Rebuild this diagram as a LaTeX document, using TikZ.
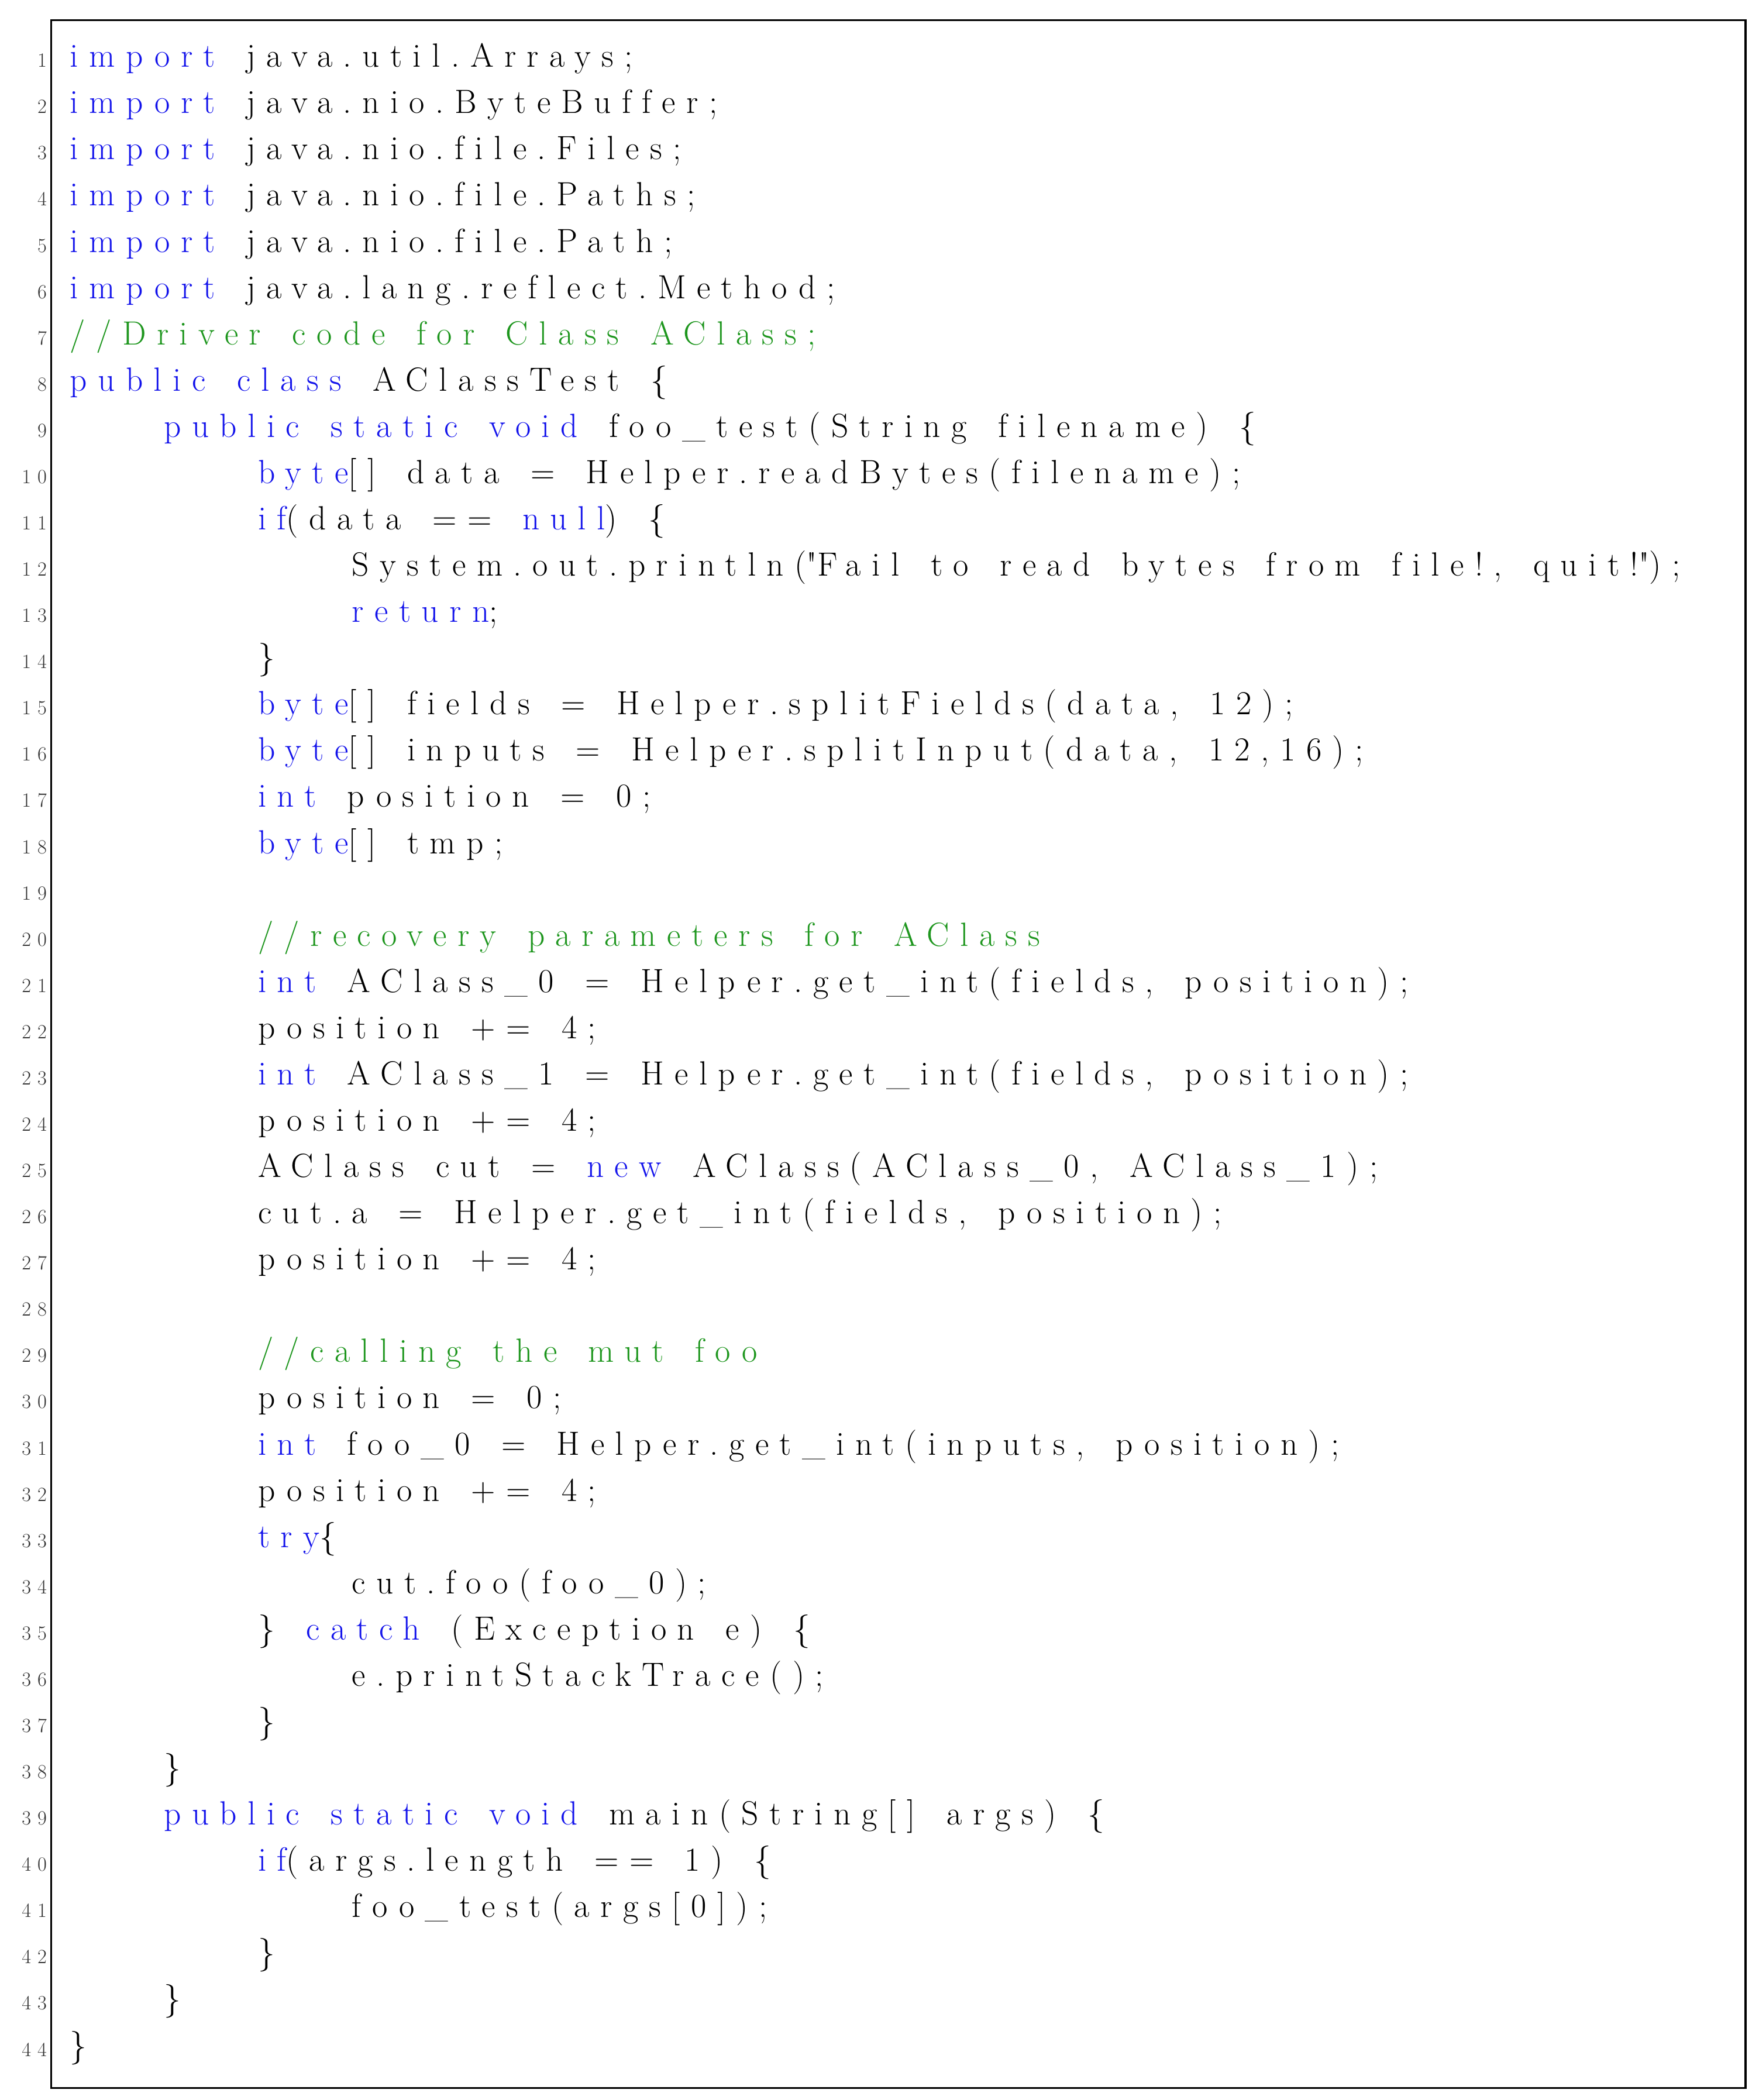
\documentclass[tikz,border=0pt]{standalone}
\usepackage{fontspec}
\setmainfont{Latin Modern Roman}[LetterSpace=32,WordSpace=1.5,Ligatures={NoCommon}]
\definecolor{kwc}{RGB}{20,20,235}
\definecolor{cmc}{RGB}{30,150,30}
\newcommand{\kw}[1]{\textcolor{kwc}{#1}}
\newcommand{\cm}[1]{\textcolor{cmc}{#1}}
\tikzset{code/.style={anchor=base west,inner sep=0pt,font=\fontsize{25}{30}\selectfont},
 num/.style={anchor=base east,inner sep=0pt,font=\fontsize{15}{17}\selectfont,text=black!80}}
\newcommand{\cl}[3]{%
 \node[num] (n#1) at (35pt,{(1564-50-(#1-1)*34.45)*1pt}) {#1};
 \node[code] (c#1) at ({(52+#2*70)*1pt},{(1564-50-(#1-1)*34.45)*1pt}) {#3};}
\begin{document}
\begin{tikzpicture}
\useasboundingbox (0,0) rectangle (1310pt,1564pt);
\draw[line width=1.5pt] (38pt,9pt) rectangle (1300pt,1549pt);
\cl{1}{0}{\kw{import} java.util.Arrays;}
\cl{2}{0}{\kw{import} java.nio.ByteBuffer;}
\cl{3}{0}{\kw{import} java.nio.file.Files;}
\cl{4}{0}{\kw{import} java.nio.file.Paths;}
\cl{5}{0}{\kw{import} java.nio.file.Path;}
\cl{6}{0}{\kw{import} java.lang.reflect.Method;}
\cl{7}{0}{\cm{//Driver code for Class AClass;}}
\cl{8}{0}{\kw{public} \kw{class} AClassTest \{}
\cl{9}{1}{\kw{public} \kw{static} \kw{void} foo\_test(String filename) \{}
\cl{10}{2}{\kw{byte}[] data = Helper.readBytes(filename);}
\cl{11}{2}{\kw{if}(data == \kw{null}) \{}
\cl{12}{3}{System.out.println(\textquotedbl Fail to read bytes from file!, quit!\textquotedbl);}
\cl{13}{3}{\kw{return};}
\cl{14}{2}{\}}
\cl{15}{2}{\kw{byte}[] fields = Helper.splitFields(data, 12);}
\cl{16}{2}{\kw{byte}[] inputs = Helper.splitInput(data, 12,16);}
\cl{17}{2}{\kw{int} position = 0;}
\cl{18}{2}{\kw{byte}[] tmp;}
\cl{19}{2}{}
\cl{20}{2}{\cm{//recovery parameters for AClass}}
\cl{21}{2}{\kw{int} AClass\_0 = Helper.get\_int(fields, position);}
\cl{22}{2}{position += 4;}
\cl{23}{2}{\kw{int} AClass\_1 = Helper.get\_int(fields, position);}
\cl{24}{2}{position += 4;}
\cl{25}{2}{AClass cut = \kw{new} AClass(AClass\_0, AClass\_1);}
\cl{26}{2}{cut.a = Helper.get\_int(fields, position);}
\cl{27}{2}{position += 4;}
\cl{28}{2}{}
\cl{29}{2}{\cm{//calling the mut foo}}
\cl{30}{2}{position = 0;}
\cl{31}{2}{\kw{int} foo\_0 = Helper.get\_int(inputs, position);}
\cl{32}{2}{position += 4;}
\cl{33}{2}{\kw{try}\{}
\cl{34}{3}{cut.foo(foo\_0);}
\cl{35}{2}{\} \kw{catch} (Exception e) \{}
\cl{36}{3}{e.printStackTrace();}
\cl{37}{2}{\}}
\cl{38}{1}{\}}
\cl{39}{1}{\kw{public} \kw{static} \kw{void} main(String[] args) \{}
\cl{40}{2}{\kw{if}(args.length == 1) \{}
\cl{41}{3}{foo\_test(args[0]);}
\cl{42}{2}{\}}
\cl{43}{1}{\}}
\cl{44}{0}{\}}
\end{tikzpicture}
\end{document}
